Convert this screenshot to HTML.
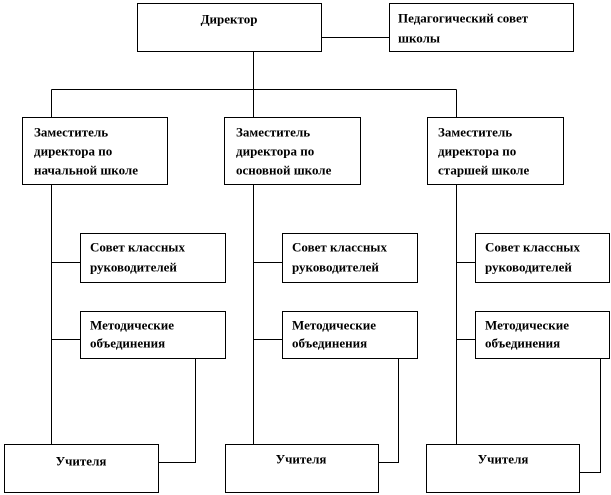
<!DOCTYPE html>
<html><head><meta charset="utf-8"><style>
html,body{margin:0;padding:0;background:#fff;}
svg{display:block}
text{font-family:"Liberation Serif",serif;font-weight:bold;font-size:13px;fill:#000;dominant-baseline:central;}
</style></head><body>
<svg width="611" height="495" viewBox="0 0 611 495" xmlns="http://www.w3.org/2000/svg">
<g fill="#fff" stroke="#000" stroke-width="1">
<rect x="137.5" y="3.5" width="184" height="48"/>
<rect x="389.5" y="3.5" width="184" height="48"/>
<rect x="22.5" y="117.5" width="145" height="67"/>
<rect x="224.5" y="117.5" width="136" height="67"/>
<rect x="427.5" y="117.5" width="136" height="67"/>
<rect x="80.5" y="233.5" width="145" height="49"/>
<rect x="282.5" y="233.5" width="135" height="49"/>
<rect x="475.5" y="233.5" width="134" height="49"/>
<rect x="80.5" y="311.5" width="145" height="47"/>
<rect x="282.5" y="311.5" width="135" height="47"/>
<rect x="475.5" y="311.5" width="134" height="47"/>
<rect x="4.5" y="444.5" width="154" height="48"/>
<rect x="225.5" y="444.5" width="153" height="48"/>
<rect x="426.5" y="444.5" width="153" height="48"/>
</g>
<g fill="none" stroke="#000" stroke-width="1">
<path d="M321.5 37.5H389.5"/>
<path d="M253.5 51.5V89.5M51.5 89.5H456.5M51.5 89.5V117.5M253.5 89.5V117.5M456.5 89.5V117.5"/>
<path d="M51.5 184.5V444.5M253.5 184.5V444.5M456.5 184.5V444.5"/>
<path d="M51.5 262.5H80.5M253.5 262.5H282.5M456.5 262.5H475.5"/>
<path d="M51.5 339.5H80.5M253.5 339.5H282.5M456.5 339.5H475.5"/>
<path d="M195.5 358.5V462.5H158.5M398.5 358.5V462.5H378.5M600.5 358.5V472.5H579.5"/>
</g>
<text x="229" y="19" text-anchor="middle">Директор</text>
<text x="398" y="18">Педагогический  совет</text>
<text x="398" y="38">школы</text>
<text x="34" y="132">Заместитель</text>
<text x="34" y="151">директора по</text>
<text x="34" y="170">начальной школе</text>
<text x="236" y="132">Заместитель</text>
<text x="236" y="151">директора по</text>
<text x="236" y="170">основной школе</text>
<text x="438" y="132">Заместитель</text>
<text x="438" y="151">директора по</text>
<text x="438" y="170">старшей школе</text>
<text x="90" y="247">Совет классных</text>
<text x="90" y="267">руководителей</text>
<text x="292" y="247">Совет классных</text>
<text x="292" y="267">руководителей</text>
<text x="485" y="247">Совет классных</text>
<text x="485" y="267">руководителей</text>
<text x="90" y="325">Методические</text>
<text x="90" y="343">объединения</text>
<text x="292" y="325">Методические</text>
<text x="292" y="343">объединения</text>
<text x="485" y="325">Методические</text>
<text x="485" y="343">объединения</text>
<text x="81" y="461" text-anchor="middle">Учителя</text>
<text x="301" y="459" text-anchor="middle">Учителя</text>
<text x="503" y="459" text-anchor="middle">Учителя</text>
</svg>
</body></html>
